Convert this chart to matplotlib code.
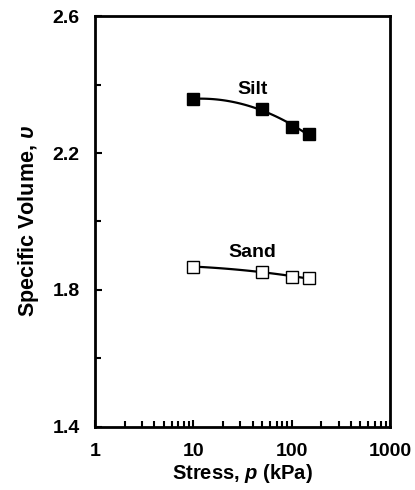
import numpy as np
import matplotlib
matplotlib.use("Agg")
import matplotlib.pyplot as plt
from matplotlib.ticker import FixedLocator, LogLocator, NullFormatter

plt.rcParams['font.family'] = 'Liberation Sans'
plt.rcParams['font.weight'] = 'bold'
plt.rcParams['mathtext.fontset'] = 'custom'
plt.rcParams['mathtext.it'] = 'Liberation Sans:italic:bold'
plt.rcParams['mathtext.rm'] = 'Liberation Sans:bold'

# data
stress = [10, 50, 100, 150]
silt = [2.358, 2.328, 2.276, 2.255]
sand = [1.868, 1.853, 1.838, 1.834]

fig = plt.figure(figsize=(4.15, 4.9), dpi=100)
ax = fig.add_axes([0.229, 0.129, 0.711, 0.838])

# smooth trend curves (quadratic in log p)
xs = np.logspace(np.log10(stress[0]), np.log10(stress[-1]), 100)
for vals, face in [(silt, 'black'), (sand, 'white')]:
    c = np.polyfit(np.log10(stress), vals, 2)
    ax.plot(xs, np.polyval(c, np.log10(xs)), color='black', lw=1.6, zorder=2)
    ax.plot(stress, vals, 's', ms=9, mfc=face, mec='black', mew=1.0,
            ls='none', zorder=3)

ax.set_xscale('log')
ax.set_xlim(1, 1000)
ax.set_ylim(1.4, 2.6)
ax.set_xticks([1, 10, 100, 1000])
ax.set_xticklabels(['1', '10', '100', '1000'])
ax.xaxis.set_minor_locator(LogLocator(base=10, subs=np.arange(2, 10)))
ax.xaxis.set_minor_formatter(NullFormatter())
ax.set_yticks([1.4, 1.8, 2.2, 2.6])
ax.set_yticklabels(['1.4', '1.8', '2.2', '2.6'])
ax.yaxis.set_minor_locator(FixedLocator([1.6, 2.0, 2.4]))

ax.tick_params(which='both', direction='in', top=False, right=False,
               labelsize=14, width=1.5)
ax.tick_params(which='major', length=5)
ax.tick_params(which='minor', length=4)
ax.tick_params(axis='x', which='major', pad=12)
ax.tick_params(axis='y', which='major', pad=11)
for s in ax.spines.values():
    s.set_linewidth(2.0)

ax.text(40, 2.385, 'Silt', ha='center', va='center', fontsize=14, fontweight='bold')
ax.text(40, 1.908, 'Sand', ha='center', va='center', fontsize=14, fontweight='bold')

ax.set_xlabel('Stress, $p$ (kPa)', fontsize=14.5, fontweight='bold', labelpad=1)
ax.set_ylabel('Specific Volume, $\\upsilon$', fontsize=15.5, fontweight='bold', labelpad=8)

fig.savefig('out.png', dpi=100)
